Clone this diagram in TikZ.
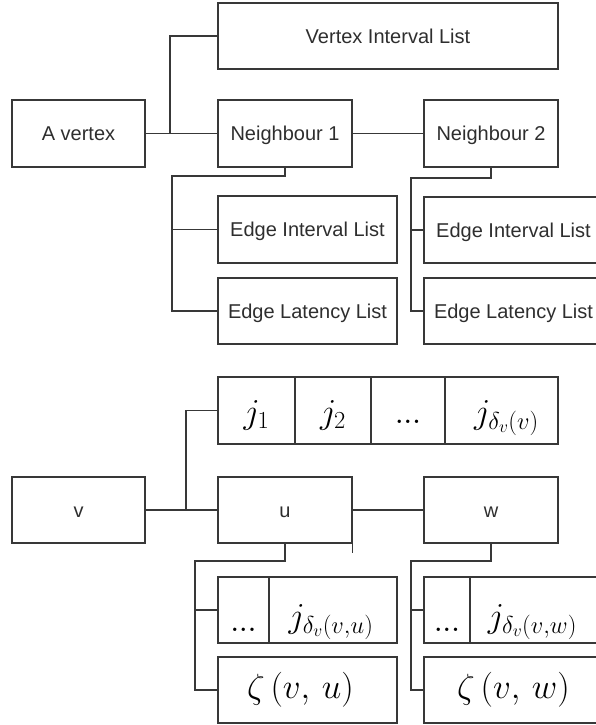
\documentclass[tikz,border=0pt]{standalone}
\usepackage{fix-cm}
\usepackage[no-math]{fontspec}
\setmainfont{Liberation Sans}
\newcommand\lab{\fontsize{20}{24}\selectfont}
\newcommand\mth{\fontsize{35}{40}\selectfont}
\newcommand\tdots{\mathbf{.\kern-0.8pt.\kern-0.8pt.}}
\tikzset{
  ln/.style={draw=black!78, line width=1.3pt},
  box/.style={draw=black!78, line width=1.3pt, rectangle, inner sep=0pt,
    minimum height=67pt, font=\lab, text=black!82, text height=14.4pt, text depth=0pt},
  mt/.style={inner sep=0pt, font=\mth, text=black, anchor=base},
}
\begin{document}
\begin{tikzpicture}[x=1pt,y=-1pt]
\useasboundingbox (0,0) rectangle (595,725);
% ---------- top diagram ----------
\node[box, minimum width=340pt, minimum height=66pt] (vil) at (388,36) {Vertex Interval List};
\node[box, minimum width=133pt] (av) at (78.5,133.5) {A vertex};
\node[box, minimum width=134pt] (n1) at (285,133.5) {Neighbour 1};
\node[box, minimum width=134pt] (n2) at (491,133.5) {Neighbour 2};
\node[box, minimum width=179pt] (e1a) at (307.5,229.5) {Edge Interval List};
\node[box, minimum width=179pt, minimum height=66pt] (e1b) at (307.5,311) {Edge Latency List};
\node[box, minimum width=179pt, minimum height=66pt] (e2a) at (513.5,230) {Edge Interval List};
\node[box, minimum width=179pt, minimum height=66pt] (e2b) at (513.5,311) {Edge Latency List};

\coordinate (ja) at (170,133.5);
\draw[ln] (av.east) -- (n1.west);
\draw[ln] (ja) |- (vil.west);
\draw[ln] (n1.east) -- (n2.west);
\coordinate (b1) at (172,176);
\draw[ln] (n1.south) |- (b1) |- (e1b.west);
\draw[ln] (b1 |- e1a.west) -- (e1a.west);
\coordinate (b2) at (411,178);
\draw[ln] (n2.south) |- (b2) |- (e2b.west);
\draw[ln] (b2 |- e2a.west) -- (e2a.west);

% ---------- bottom diagram ----------
\node[box, minimum width=133pt, minimum height=66pt] (v) at (78.5,510) {v};
\node[box, minimum width=134pt, minimum height=66pt] (u) at (285,510) {u};
\node[box, minimum width=134pt, minimum height=66pt] (w) at (491,510) {w};

\node[box, minimum width=77pt] (c1) at (256.5,410.5) {};
\node[box, minimum width=76pt] (c2) at (333,410.5) {};
\node[box, minimum width=74pt] (c3) at (408,410.5) {};
\node[box, minimum width=113pt] (c4) at (501.5,410.5) {};
\node[mt] (t1) at ([yshift=-12.5pt]c1.center) {$j_1$};
\node[mt] (t2) at ([yshift=-12.5pt]c2.center) {$j_2$};
\node[mt] (t3) at ([yshift=-12.5pt]c3.center) {$\tdots$};
\node[mt] (t4) at ([xshift=5pt,yshift=-12.5pt]c4.center) {$j_{\delta_v(v)}$};

\node[box, minimum width=51pt, minimum height=66pt] (q1a) at (243.5,610) {};
\node[box, minimum width=128pt, minimum height=66pt] (q1b) at (333,610) {};
\node[box, minimum width=179pt, minimum height=66pt] (z1) at (307.5,690) {};
\node[box, minimum width=46pt, minimum height=66pt] (q2a) at (447,610) {};
\node[box, minimum width=133pt, minimum height=66pt] (q2b) at (536.5,610) {};
\node[box, minimum width=179pt, minimum height=66pt] (z2) at (513.5,690) {};

\node[mt] (s1) at ([yshift=-21pt]q1a.center) {$\tdots$};
\node[mt] (s2) at ([xshift=-2pt,yshift=-17pt]q1b.center) {$j_{\delta_v(v,u)}$};
\node[mt] (s3) at ([xshift=-7pt,yshift=-8pt]z1.center) {$\zeta\,(v,\,u)$};
\node[mt] (s4) at ([yshift=-21pt]q2a.center) {$\tdots$};
\node[mt] (s5) at ([xshift=-4pt,yshift=-17pt]q2b.center) {$j_{\delta_v(v,w)}$};
\node[mt] (s6) at ([yshift=-8pt]z2.center) {$\zeta\,(v,\,w)$};

\coordinate (jb) at (186,510);
\draw[ln] (v.east) -- (u.west);
\draw[ln] (jb) |- (c1.west);
\draw[ln] (u.east) -- (w.west);
\draw[ln] (u.south east) -- ++(0,9);
\coordinate (b3) at (195,561);
\draw[ln] (u.south) |- (b3) |- (z1.west);
\draw[ln] (b3 |- q1a.west) -- (q1a.west);
\coordinate (b4) at (411,561);
\draw[ln] (w.south) |- (b4) |- (z2.west);
\draw[ln] (b4 |- q2a.west) -- (q2a.west);
\end{tikzpicture}
\end{document}
